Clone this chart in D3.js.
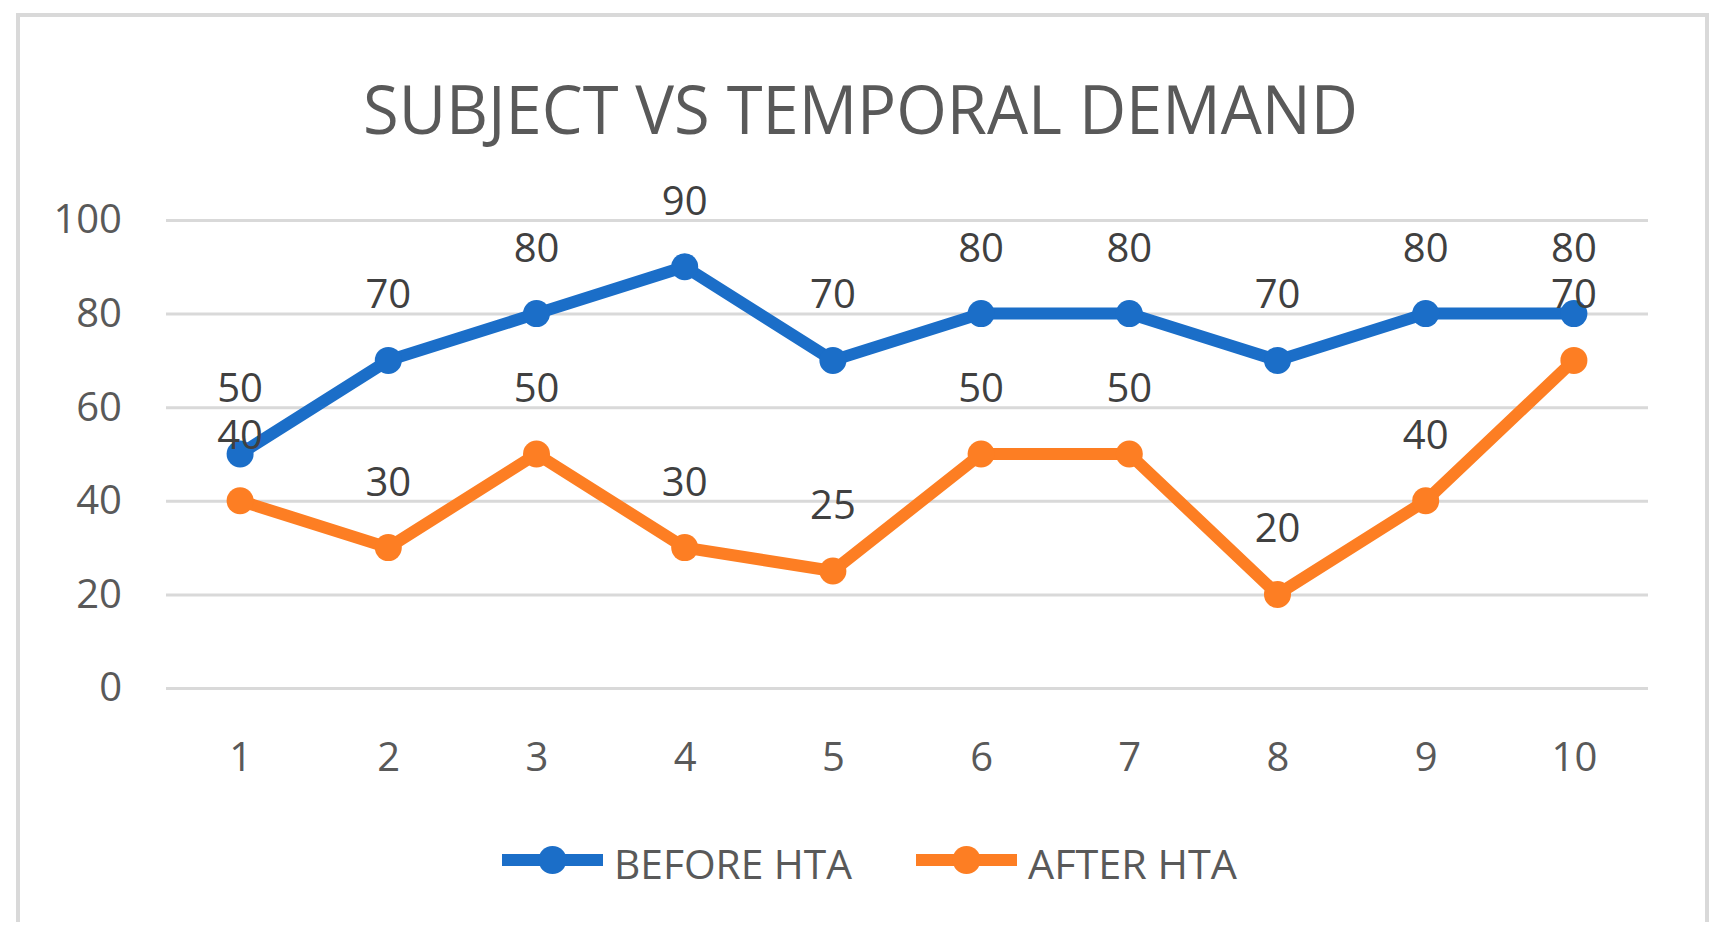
<!DOCTYPE html>
<html>
<head>
<meta charset="utf-8">
<script src="https://cdn.jsdelivr.net/npm/d3@7"></script>
<style>
  html, body { margin: 0; padding: 0; background: #fff; }
  text { font-family: 'Open Sans', sans-serif; }
</style>
</head>
<body>
<div id="chart"></div>
<script>
// Subject vs temporal demand line chart

const subjects = ['1', '2', '3', '4', '5', '6', '7', '8', '9', '10']
const beforeHTA = [50, 70, 80, 90, 70, 80, 80, 70, 80, 80]
const afterHTA = [40, 30, 50, 30, 25, 50, 50, 20, 40, 70]
const yTicks = [0, 20, 40, 60, 80, 100]
const seriesNames = ['BEFORE HTA', 'AFTER HTA']
const seriesColors = ['#1b6ec8', '#fd7e23']

const width = 1724
const height = 950
const plot = { left: 166, right: 1648, top: 220, bottom: 688 }

const svg = d3.select('#chart')
  .append('svg')
  .attr('width', width)
  .attr('height', height)

// chart frame (bottom edge is cropped off in the picture)
svg.append('path')
  .attr('d', 'M18,922 V15 H1707 V922')
  .attr('fill', 'none')
  .attr('stroke', '#d9d9d9')
  .attr('stroke-width', 4)

// Title
svg.append('text')
  .text('SUBJECT VS TEMPORAL DEMAND')
  .attr('x', 363)
  .attr('y', 134)
  .attr('font-size', 67)
  .attr('fill', '#595959')
  .attr('textLength', 995)
  .attr('lengthAdjust', 'spacingAndGlyphs')

const x = d3.scalePoint()
  .domain(subjects)
  .range([plot.left, plot.right])
  .padding(0.5)

const y = d3.scaleLinear()
  .domain([0, 100])
  .range([plot.bottom, plot.top])

// gridlines + y labels
const yAxis = svg.append('g')
  .attr('transform', `translate(${plot.left},0)`)
  .call(d3.axisLeft(y).tickValues(yTicks).tickSize(-(plot.right - plot.left)).tickPadding(44))
yAxis.select('.domain').remove()
yAxis.selectAll('line').attr('stroke', '#d9d9d9').attr('stroke-width', 3)
yAxis.selectAll('text')
  .attr('font-size', 40)
  .attr('fill', '#595959')
  .attr('font-family', "'Open Sans', sans-serif")

// x labels
const xAxis = svg.append('g')
  .attr('transform', `translate(0,${plot.bottom})`)
  .call(d3.axisBottom(x).tickSize(0).tickPadding(0))
xAxis.select('.domain').remove()
xAxis.selectAll('text')
  .attr('dy', null)
  .attr('y', 83)
  .attr('font-size', 40)
  .attr('fill', '#595959')
  .attr('font-family', "'Open Sans', sans-serif")

const series = [beforeHTA, afterHTA]
const line = d3.line().x((d, i) => x(subjects[i])).y(d => y(d))

series.forEach((vals, s) => {
  const g = svg.append('g')
  g.append('path')
    .datum(vals)
    .attr('d', line)
    .attr('fill', 'none')
    .attr('stroke', seriesColors[s])
    .attr('stroke-width', 12)
    .attr('stroke-linejoin', 'round')
  g.selectAll('circle')
    .data(vals)
    .join('circle')
    .attr('cx', (d, i) => x(subjects[i]))
    .attr('cy', d => y(d))
    .attr('r', 13.5)
    .attr('fill', seriesColors[s])
})

// data labels drawn on top
series.forEach((vals) => {
  svg.append('g')
    .selectAll('text')
    .data(vals)
    .join('text')
    .text(d => d)
    .attr('x', (d, i) => x(subjects[i]))
    .attr('y', d => y(d) - 52)
    .attr('text-anchor', 'middle')
    .attr('font-size', 40)
    .attr('fill', '#404040')
})

// Legend
const legendX = [502, 916]
const legendTextW = [238, 209]
const legend = svg.append('g')
seriesNames.forEach((name, s) => {
  const lg = legend.append('g').attr('transform', `translate(${legendX[s]},860)`)
  lg.append('line')
    .attr('x1', 0).attr('x2', 101)
    .attr('stroke', seriesColors[s])
    .attr('stroke-width', 12)
  lg.append('circle')
    .attr('cx', 50.5)
    .attr('r', 14)
    .attr('fill', seriesColors[s])
  lg.append('text')
    .text(name)
    .attr('x', 112)
    .attr('y', 19)
    .attr('font-size', 40)
    .attr('fill', '#595959')
    .attr('textLength', legendTextW[s])
    .attr('lengthAdjust', 'spacingAndGlyphs')
})
</script>
</body>
</html>
